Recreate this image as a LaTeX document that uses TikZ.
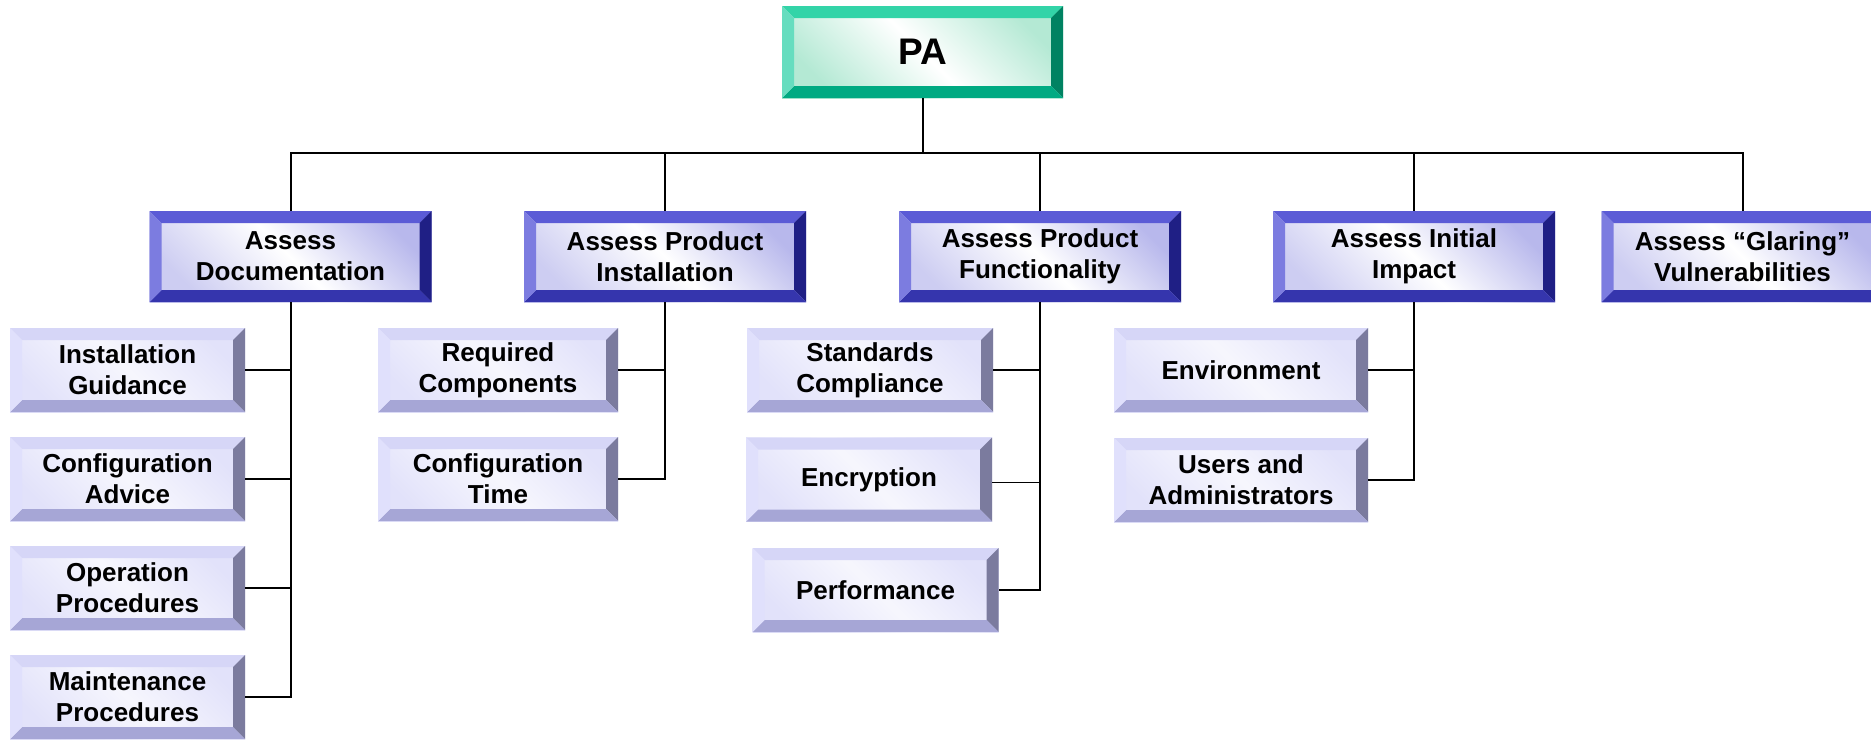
\documentclass[tikz,border=0pt]{standalone}
\usepackage{fontspec}
\setmainfont{Liberation Sans}
\usetikzlibrary{calc}
\newcommand{\bevdepth}{6pt}

\begin{document}
\begin{tikzpicture}[
		x=0.5pt, y=-0.5pt,
		inner sep=0pt, outer sep=0pt,%
		link/.style={line width=1pt},
		% Bevelled frame: top, right, bottom, left
		bevel/.style n args={4}{path picture={
			\coordinate (bnw) at (path picture bounding box.north west);
			\coordinate (bse) at (path picture bounding box.south east);
			\coordinate (bne) at (bse |- bnw);
			\coordinate (bsw) at (bnw |- bse);
			\fill[#1] (bnw) -- (bne) -- ($(bne)+(-\bevdepth,-\bevdepth)$) -- ($(bnw)+(\bevdepth,-\bevdepth)$) -- cycle;
			\fill[#2] (bne) -- (bse) -- ($(bse)+(-\bevdepth,\bevdepth)$) -- ($(bne)+(-\bevdepth,-\bevdepth)$) -- cycle;
			\fill[#3] (bsw) -- (bse) -- ($(bse)+(-\bevdepth,\bevdepth)$) -- ($(bsw)+(\bevdepth,\bevdepth)$) -- cycle;
			\fill[#4] (bnw) -- (bsw) -- ($(bsw)+(\bevdepth,\bevdepth)$) -- ($(bnw)+(\bevdepth,-\bevdepth)$) -- cycle;
		}},
		rootbox/.style={bevel={paT}{paR}{paB}{paL},
			left color=paF, right color=paF, middle color=white, shading angle=135,
			minimum width=140.5pt, minimum height=46pt,
			font=\fontsize{18.5}{20}\selectfont\bfseries},
		topicbox/.style={bevel={asT}{asR}{asB}{asL},
			left color=asF!70, right color=asF, middle color=white, shading angle=135,
			minimum width=141pt, minimum height=45.5pt, align=center,
			font=\fontsize{13}{15.5}\selectfont\bfseries},
		itembox/.style={bevel={itT}{itR}{itB}{itL},
			left color=itF, right color=itF, middle color=white!70!itF, shading angle=135,
			minimum width=#1, minimum height=42pt, align=center,
			font=\fontsize{13}{15.5}\selectfont\bfseries},
	]
		% Colors
		\definecolor{paT}{HTML}{33D4A8}
		\definecolor{paL}{HTML}{66DDBF}
		\definecolor{paR}{HTML}{008262}
		\definecolor{paB}{HTML}{00AA82}
		\definecolor{paF}{HTML}{B4E9D4}
		\definecolor{asT}{HTML}{5B5BD6}
		\definecolor{asL}{HTML}{7C7CE0}
		\definecolor{asR}{HTML}{1F1F85}
		\definecolor{asB}{HTML}{3535AD}
		\definecolor{asF}{HTML}{B8B8EC}
		\definecolor{itT}{HTML}{D6D6F7}
		\definecolor{itL}{HTML}{E0E0FC}
		\definecolor{itR}{HTML}{7B7B9E}
		\definecolor{itB}{HTML}{A6A6D6}
		\definecolor{itF}{HTML}{E2E2FA}

		\useasboundingbox (0,0) rectangle (1871,739);

		% Root
		\node[rootbox] (pa) at (922.5,52) {PA};

		% Second level
		\node[topicbox] (doc)  at (290.5,256.5) {Assess\\Documentation};
		\node[topicbox] (inst) at (665,256.5)   {Assess Product\\Installation};
		\node[topicbox] (func) at (1040,256.5)  {Assess Product\\Functionality};
		\node[topicbox] (imp)  at (1414,256.5)  {Assess Initial\\Impact};
		\node[topicbox] (glar) at (1742.5,256.5) {Assess “Glaring”\\Vulnerabilities};

		% Leaves
		\node[itembox=117.5pt] (docA) at (127.5,370) {Installation\\Guidance};
		\node[itembox=117.5pt] (docB) at (127.5,479) {Configuration\\Advice};
		\node[itembox=117.5pt] (docC) at (127.5,588) {Operation\\Procedures};
		\node[itembox=117.5pt] (docD) at (127.5,697) {Maintenance\\Procedures};

		\node[itembox=120pt] (instA) at (498,370) {Required\\Components};
		\node[itembox=120pt] (instB) at (498,479) {Configuration\\Time};

		\node[itembox=123pt] (funcA) at (870,370)   {Standards\\Compliance};
		\node[itembox=123pt] (funcB) at (869,479.5) {Encryption};
		\node[itembox=123pt] (funcC) at (875.5,590) {Performance};

		\node[itembox=127pt] (impA) at (1241,370) {Environment};
		\node[itembox=127pt] (impB) at (1241,480) {Users and\\Administrators};

		% Links
		\foreach \n in {doc,inst,func,imp,glar}
			\draw[link] (pa.south) -- ++(0,55) -| (\n.north);
		\foreach \n in {docA,docB,docC,docD}
			\draw[link] (doc.south) |- (\n.east);
		\foreach \n in {instA,instB}
			\draw[link] (inst.south) |- (\n.east);
		\draw[link] (func.south) |- (funcA.east);
		\draw[thin] (func.south) |- ($(funcB.east)+(0,3)$);
		\draw[link] (func.south) |- (funcC.east);
		\foreach \n in {impA,impB}
			\draw[link] (imp.south) |- (\n.east);
	\end{tikzpicture}
\end{document}
